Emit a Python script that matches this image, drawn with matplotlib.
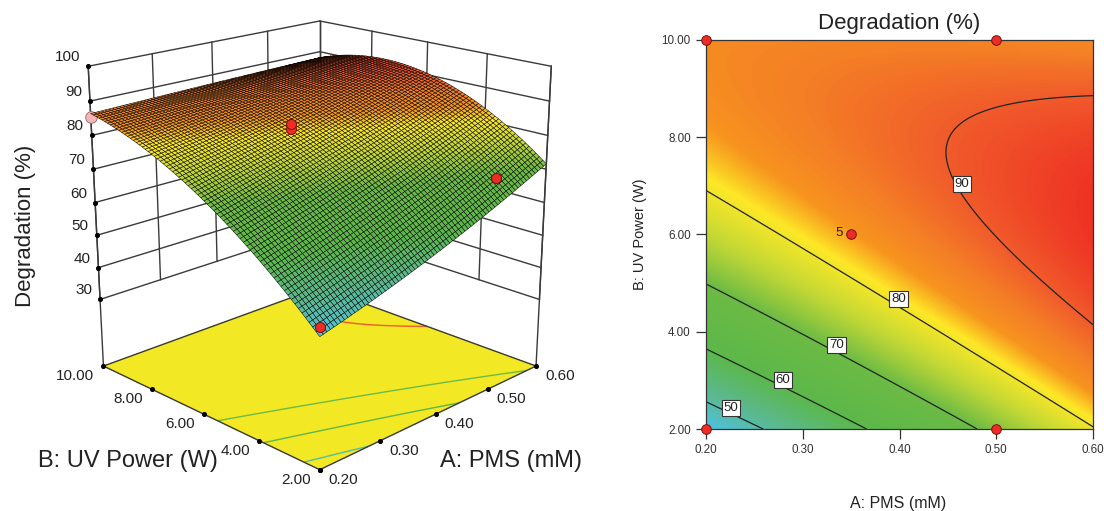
#!/usr/bin/env python3
"""Degradation response surface: 3D view on the left, contour map on the right"""

import matplotlib
matplotlib.use('Agg')
import matplotlib.pyplot as plt
from matplotlib.colors import LinearSegmentedColormap, Normalize
from mpl_toolkits.mplot3d import proj3d
import numpy as np

plt.rcParams['font.family'] = ['Liberation Sans', 'DejaVu Sans']

W, H = 1104, 511

# values
pms_ticks = [0.20, 0.30, 0.40, 0.50, 0.60]
uv_ticks = [2.00, 4.00, 6.00, 8.00, 10.00]
degradation_ticks = [30, 40, 50, 60, 70, 80, 90, 100]
floor_level = 8.6

# rows: UV power, columns: PMS
surface_table = [
    [46.0, 50.5, 57.0, 64.0, 71.5],
    [61.0, 66.0, 72.0, 78.0, 83.5],
    [73.0, 77.0, 81.5, 86.0, 90.5],
    [81.0, 83.5, 86.5, 89.0, 92.0],
    [86.5, 87.0, 87.5, 88.0, 88.0],
]
contour_table = [
    [44.2, 53.9, 63.0, 71.7, 79.7],
    [62.9, 70.4, 77.3, 83.7, 89.5],
    [75.9, 81.2, 85.9, 90.1, 93.7],
    [83.4, 86.4, 88.9, 90.9, 92.3],
    [85.2, 86.0, 86.3, 86.1, 85.3],
]

contour_levels = [50, 60, 70, 80, 90]
floor_levels = [50, 60, 70, 90]
contour_label_pms = [0.2258, 0.2796, 0.3349, 0.3991, 0.4646]
contour_label_uv = [2.43, 3.00, 3.72, 4.67, 7.04]

design_pms = [0.20, 0.50, 0.35, 0.20, 0.50]
design_uv = [10.00, 10.00, 6.00, 2.00, 2.00]

dots3d_pms = [0.35, 0.35, 0.50, 0.20]
dots3d_uv = [6.00, 6.00, 2.00, 2.00]
dots3d_deg = [85.5, 84.0, 72.5, 48.5]
pink_pms, pink_uv, pink_deg = [0.20], [10.00], [85.5]

color_values = [44, 52, 60, 70, 76, 81, 84, 87, 90, 94]
color_list = ['#4dc3e6', '#5bb98f', '#5cb84a', '#6cbb45', '#c3d835', '#fde827',
              '#f7941e', '#f47f26', '#f15c2b', '#ee3124']

norm = Normalize(min(color_values), max(color_values))
cmap = LinearSegmentedColormap.from_list(
    'rsm', [(norm(v), c) for v, c in zip(color_values, color_list)])


def smooth(table, a, b):
    """Smooth biquadratic through a table read at the tick positions"""
    aa, bb = np.meshgrid(pms_ticks, uv_ticks)
    terms = lambda p, q: np.stack([p**i * q**j for i in range(3) for j in range(3)], -1)
    coef = np.linalg.lstsq(terms(aa, bb).reshape(-1, 9), np.ravel(table), rcond=None)[0]
    return terms(a, b) @ coef


def figtext(x, y, s, **kw):
    fig.text(x / W, 1 - y / H, s, ha='center', va='center', color='#222222', **kw)


fig = plt.figure(figsize=(W / 100, H / 100), dpi=100, facecolor='white')

# === 3D surface ===
side = 277
cx, cy = 316, 225
ax3 = fig.add_axes([(cx - side / 2) / W, 1 - (cy + side / 2) / H, side / W, side / H],
                   projection='3d', computed_zorder=False)
ax3.set_proj_type('persp')
ax3._dist = 5.8
ax3.view_init(elev=18.8, azim=-135)
ax3.set_box_aspect((1, 1, 1.0), zoom=1.92)
ax3.set_xlim(0.2, 0.6)
ax3.set_ylim(2, 10)
ax3.set_zlim(floor_level, 100)
ax3.set_axis_off()

grid_kw = dict(color='#3a3a3a', lw=1.0, zorder=1)
for p in pms_ticks:
    ax3.plot([p, p], [10, 10], [30, 100], **grid_kw)
for u in uv_ticks:
    ax3.plot([0.6, 0.6], [u, u], [30, 100], **grid_kw)
for z in degradation_ticks:
    ax3.plot([0.2, 0.6], [10, 10], [z, z], **grid_kw)
    ax3.plot([0.6, 0.6], [10, 2], [z, z], **grid_kw)
ax3.plot([0.2, 0.2], [10, 10], [floor_level, 100], **grid_kw)
ax3.plot([0.6, 0.6], [2, 2], [floor_level, 100], **grid_kw)

# floor with the contours projected on it
pp, uu = np.meshgrid(np.linspace(0.2, 0.6, 90), np.linspace(2, 10, 90))
ax3.plot_surface(pp, uu, np.full_like(pp, floor_level), color='#f2e824', shade=False,
                 linewidth=0, antialiased=False, zorder=2)
ax3.contour(pp, uu, smooth(surface_table, pp, uu), levels=floor_levels, zdir='z',
            offset=floor_level, colors=[cmap(norm(v)) for v in floor_levels],
            linewidths=1.0, zorder=3)
ax3.plot([0.2, 0.6, 0.6, 0.2, 0.2], [2, 2, 10, 10, 2], [floor_level] * 5,
         color='#3a3a3a', lw=1.0, zorder=3)
ax3.scatter([0.2] * 5, uv_ticks, [floor_level] * 5, s=7, c='k', depthshade=False, zorder=3)
ax3.scatter(pms_ticks, [2] * 5, [floor_level] * 5, s=7, c='k', depthshade=False, zorder=3)
ax3.scatter([0.2] * 8, [10] * 8, degradation_ticks, s=7, c='k', depthshade=False, zorder=3)

sp, su = np.meshgrid(np.linspace(0.2, 0.6, 73), np.linspace(2, 10, 73))
sz = smooth(surface_table, sp, su)
ax3.scatter(pink_pms, pink_uv, pink_deg, s=70, c='#f4b6b6', edgecolors='#a06060',
            linewidths=0.6, depthshade=False, zorder=4)
ax3.plot_surface(sp, su, sz, facecolors=cmap(norm(sz)), rstride=1, cstride=1, shade=False,
                 edgecolor='black', linewidth=0.35, zorder=5)
ax3.scatter(dots3d_pms, dots3d_uv, dots3d_deg, s=52, c='#ee2b24', edgecolors='#7a1010',
            linewidths=0.7, depthshade=False, zorder=6)


def label3d(x, y, z, s, dx, dy, ha):
    px, py, _ = proj3d.proj_transform(x, y, z, ax3.get_proj())
    ax3.annotate(s, (px, py), xytext=(dx, dy), textcoords='offset pixels', ha=ha, va='center',
                 fontsize=11, color='#222222', annotation_clip=False)


for z in degradation_ticks:
    label3d(0.2, 10, z, str(z), -8, 9, 'right')
for u in uv_ticks:
    label3d(0.2, u, floor_level, f'{u:.2f}', -9, -10, 'right')
for p in pms_ticks:
    label3d(p, 2, floor_level, f'{p:.2f}', 9, -10, 'left')

# the axes box is small, so nothing in it may be clipped
for art in ax3.get_children():
    art.set_clip_on(False)

figtext(26, 226, 'Degradation (%)', fontsize=16, rotation=90)
figtext(128, 461, 'B: UV Power (W)', fontsize=17)
figtext(511, 461, 'A: PMS (mM)', fontsize=17)

# === contour map ===
ax = fig.add_axes([706 / W, 1 - 429 / H, 387 / W, 389 / H])
gp, gu = np.meshgrid(np.linspace(0.2, 0.6, 300), np.linspace(2, 10, 300))
gz = smooth(contour_table, gp, gu)
ax.imshow(gz, origin='lower', extent=(0.2, 0.6, 2, 10), aspect='auto', cmap=cmap, norm=norm,
          interpolation='bilinear')
ax.contour(gp, gu, gz, levels=contour_levels, colors='#222222', linewidths=0.9)
for lev, p, u in zip(contour_levels, contour_label_pms, contour_label_uv):
    ax.text(p, u, str(lev), ha='center', va='center', fontsize=9.5, color='#222222',
            bbox=dict(boxstyle='square,pad=0.15', facecolor='white', edgecolor='#333333', linewidth=0.8))
ax.scatter(design_pms, design_uv, s=48, c='#ee2b24', edgecolors='#7a1010', linewidths=0.7,
           clip_on=False, zorder=5)
ax.text(0.35 - 0.012, 6.03, '5', ha='center', va='center', fontsize=9.5, color='#222222')

ax.set_xlim(0.2, 0.6)
ax.set_ylim(2, 10)
ax.set_xticks(pms_ticks, [f'{p:.2f}' for p in pms_ticks])
ax.set_yticks(uv_ticks, [f'{u:.2f}' for u in uv_ticks])
ax.tick_params(length=7, width=0.9, labelsize=8.4, color='#333333', labelcolor='#333333', pad=4)
for s in ax.spines.values():
    s.set_color('#333333')
    s.set_linewidth(0.9)

figtext(899, 24, 'Degradation (%)', fontsize=16)
figtext(898, 503, 'A: PMS (mM)', fontsize=11.5)
figtext(640, 234, 'B: UV Power (W)', fontsize=10.5, rotation=90)

fig.savefig('out.png', dpi=100, facecolor='white')
plt.close()
